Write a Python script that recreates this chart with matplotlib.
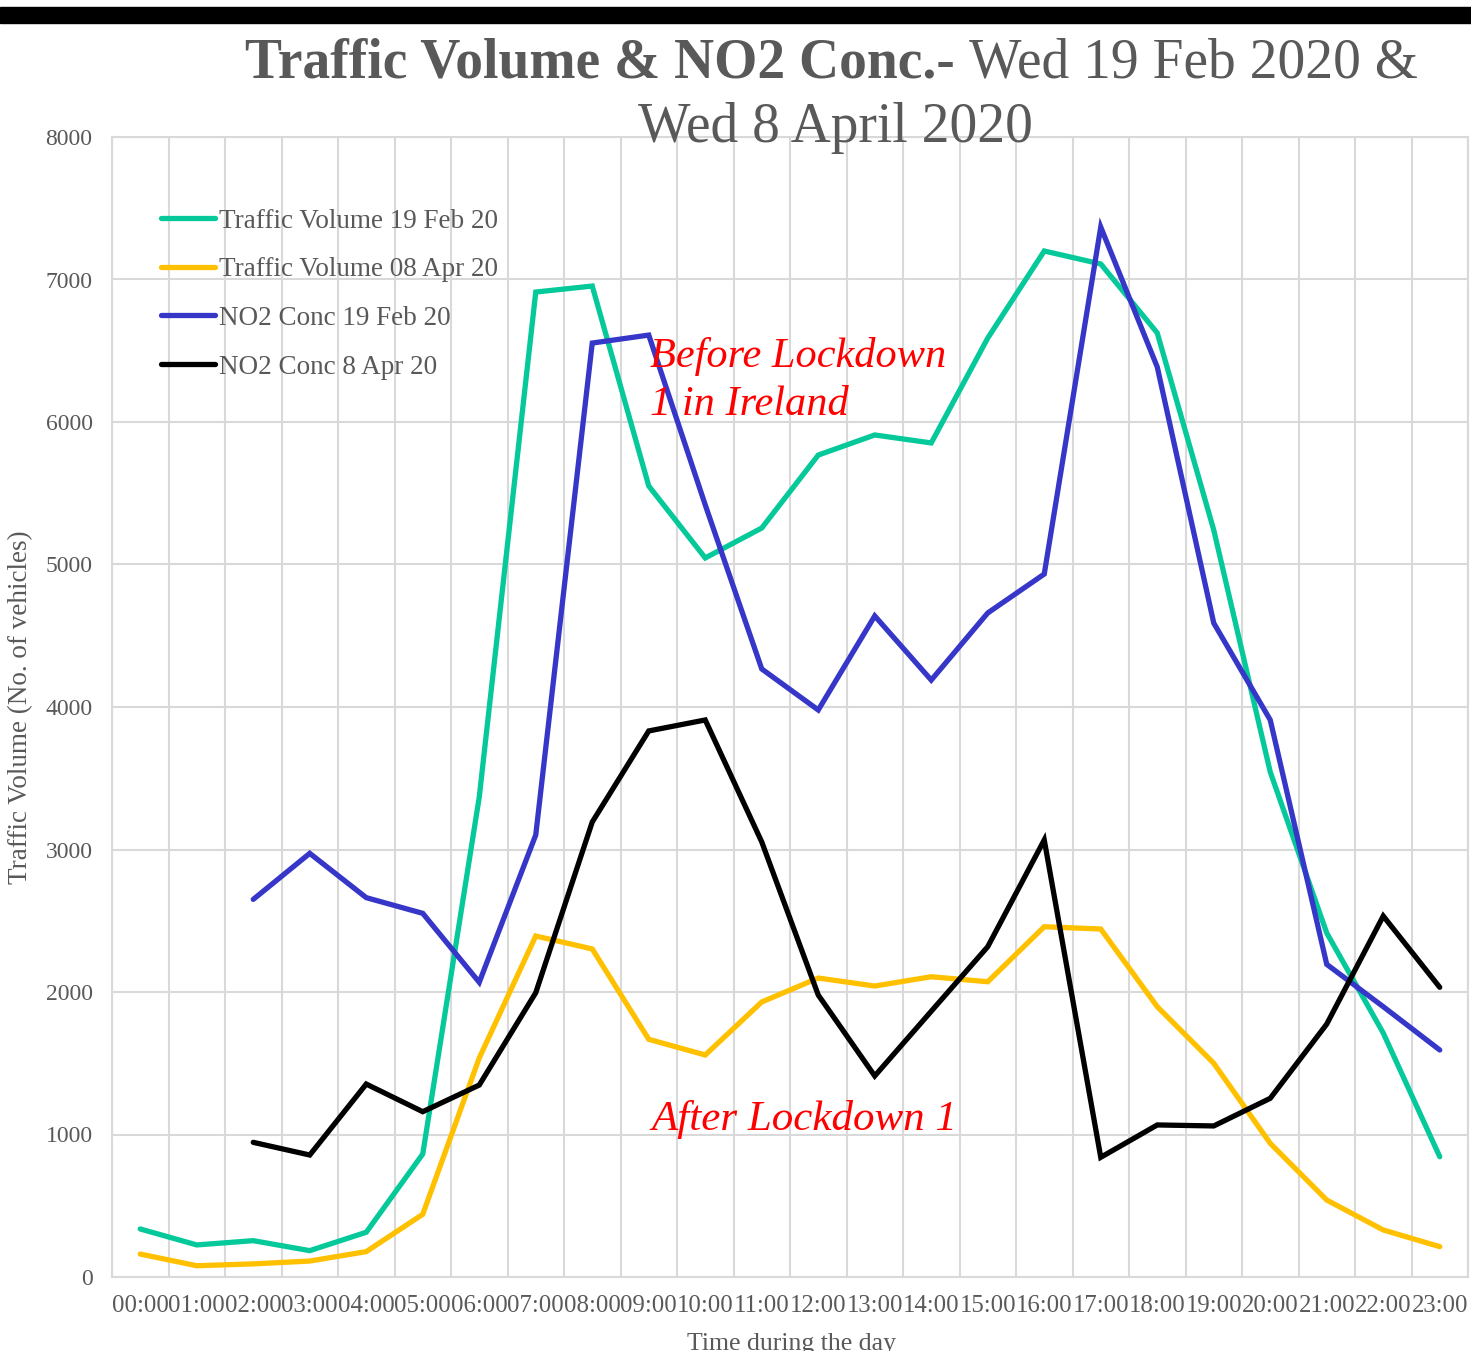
import numpy as np
import matplotlib
matplotlib.use("Agg")
import matplotlib.pyplot as plt
from matplotlib.patches import Rectangle

plt.rcParams['font.family'] = ['Liberation Serif', 'DejaVu Serif']

hours = ['%02d:00' % h for h in range(24)]

traffic_feb = [337, 225, 255, 185, 314, 863, 3368, 6912, 6954, 5551, 5046, 5256,
               5768, 5909, 5853, 6589, 7200, 7109, 6625, 5242, 3544, 2414, 1712, 844]
traffic_apr = [161, 79, 92, 112, 178, 440, 1537, 2393, 2302, 1668, 1558, 1930,
               2098, 2042, 2107, 2072, 2458, 2442, 1897, 1500, 938, 540, 330, 213]
no2_feb = [np.nan, np.nan, 2650, 2973, 2662, 2552, 2068, 3102, 6554, 6610, 5418, 4267,
           3979, 4639, 4189, 4660, 4933, 7368, 6386, 4589, 3909, 2194, 1897, 1593]
no2_apr = [np.nan, np.nan, 945, 856, 1354, 1160, 1347, 1995, 3193, 3832, 3909, 3053,
           1979, 1411, 1865, 2318, 3067, 840, 1067, 1060, 1254, 1775, 2533, 2033]

series = [
    ('Traffic Volume 19 Feb 20', traffic_feb, '#05C99A'),
    ('Traffic Volume 08 Apr 20', traffic_apr, '#FFC000'),
    ('NO2 Conc 19 Feb 20', no2_feb, '#3636C8'),
    ('NO2 Conc 8 Apr 20', no2_apr, '#000000'),
]

grey = '#595959'
grid = '#D9D9D9'

fig = plt.figure(figsize=(14.71, 13.51), dpi=100)
ax = fig.add_axes([112 / 1471, 1 - 1277 / 1351, 1356 / 1471, 1140 / 1351])

x = np.arange(len(hours))
for label, vals, col in series:
    ax.plot(x, vals, color=col, lw=3.8, label=label, solid_capstyle='round',
            solid_joinstyle='miter', zorder=3)

ax.set_xlim(-0.5, 23.5)
ax.set_ylim(0, 8000)
ax.set_yticks(range(0, 8001, 1000))
ax.set_xticks(x)
ax.set_xticklabels(hours)
ax.set_xticks(np.arange(-0.5, 24, 1), minor=True)
ax.grid(False)
ax.grid(True, which='minor', axis='x', color=grid, lw=1.5)
ax.grid(True, which='major', axis='y', color=grid, lw=1.5)
ax.set_axisbelow(True)
for s in ax.spines.values():
    s.set_color(grid)
    s.set_linewidth(1.5)
ax.tick_params(which='both', length=0)
ax.tick_params(axis='x', labelsize=17.8, colors=grey, pad=13)
ax.tick_params(axis='y', labelsize=17, colors=grey, pad=14)

# y axis title
fig.text(21 / 1471, 1 - 707 / 1351, 'Traffic Volume (No. of vehicles)', fontsize=19.5,
         color=grey, rotation=90, ha='center', va='center')

leg = ax.legend(loc='upper left', bbox_to_anchor=(0.036, 0.937), frameon=False,
                fontsize=19.5, handlelength=2.0, handletextpad=0.15, labelspacing=0.87,
                borderpad=0, borderaxespad=0)
for t in leg.get_texts():
    t.set_color(grey)

ax.text(9.02, 6049, 'Before Lockdown\n1 in Ireland', color='red', fontsize=30.5,
        style='italic', ha='left', va='baseline', linespacing=1.33)
ax.text(9.05, 1030, 'After Lockdown 1', color='red', fontsize=31,
        style='italic', ha='left', va='baseline')

# top black bar
fig.patches.append(Rectangle((0, 1 - 23 / 1351), 1, 16 / 1351, transform=fig.transFigure,
                             color='black', zorder=10))

# title, bold part then regular part
r = fig.canvas.get_renderer()
t1 = fig.text(245 / 1471, 1 - 78 / 1351, 'Traffic Volume & NO2 Conc.-', fontsize=40,
              fontweight='bold', color=grey, ha='left', va='baseline')
bb = t1.get_window_extent(renderer=r)
fig.text((bb.x1 + 14) / 1471, 1 - 78 / 1351, 'Wed 19 Feb 2020 &', fontsize=40,
         color=grey, ha='left', va='baseline')
fig.text(835 / 1471, 1 - 142 / 1351, 'Wed 8 April 2020', fontsize=40,
         color=grey, ha='center', va='baseline')

fig.text(791 / 1471, 1 / 1351, 'Time during the day', fontsize=18.5, color=grey,
         ha='center', va='baseline')

fig.savefig('out.png', dpi=100)
